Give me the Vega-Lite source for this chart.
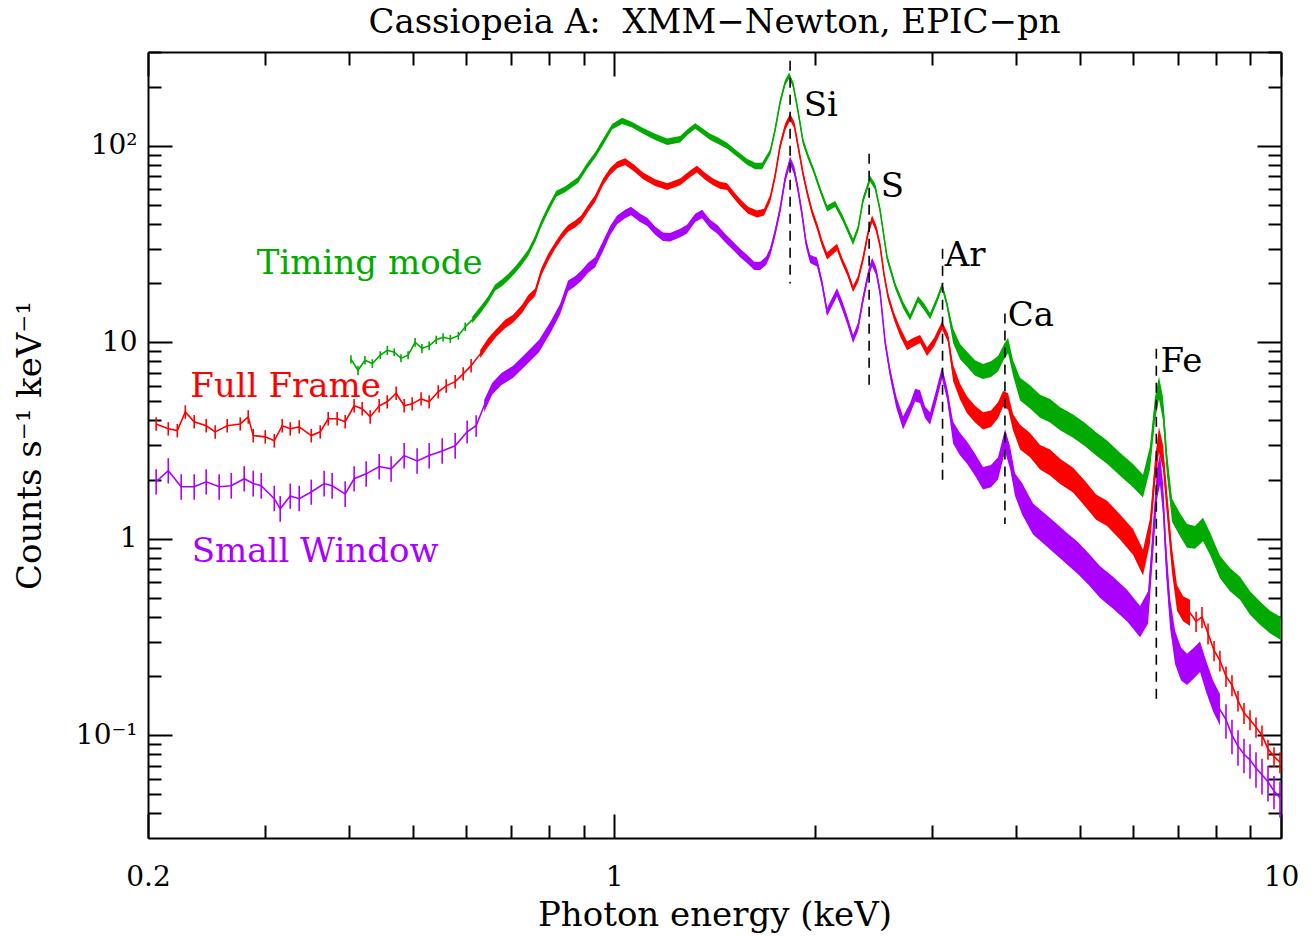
{
  "$schema": "https://vega.github.io/schema/vega-lite/v6.json",
  "width": 1133,
  "height": 786,
  "autosize": "none",
  "padding": {"left": 148, "top": 52, "right": 32, "bottom": 98},
  "background": "white",
  "title": {
    "text": "Cassiopeia A:\u00a0 XMM−Newton, EPIC−pn",
    "font": "DejaVu Serif",
    "fontSize": 34,
    "fontWeight": "normal",
    "color": "black",
    "anchor": "middle",
    "offset": -2
  },
  "config": {
    "view": {"stroke": null},
    "axis": {
      "domainColor": "black",
      "domainWidth": 2,
      "tickColor": "black",
      "tickWidth": 2,
      "labelFont": "DejaVu Serif",
      "labelFontSize": 28,
      "labelColor": "black",
      "titleFont": "DejaVu Serif",
      "titleFontSize": 34,
      "titleFontWeight": "normal",
      "titleColor": "black",
      "grid": false,
      "labelOverlap": false,
      "labelFlush": false
    }
  },
  "datasets": {
    "spectra": [
      {"m":"T","e":0.403,"v":8.2,"lo":7.8,"hi":8.6},
      {"m":"T","e":0.413,"v":7.2,"lo":6.8,"hi":7.6},
      {"m":"T","e":0.423,"v":8.1,"lo":7.7,"hi":8.5},
      {"m":"T","e":0.434,"v":7.8,"lo":7.4,"hi":8.2},
      {"m":"T","e":0.446,"v":8.6,"lo":8.2,"hi":9.0},
      {"m":"T","e":0.457,"v":9.1,"lo":8.6,"hi":9.6},
      {"m":"T","e":0.468,"v":8.9,"lo":8.5,"hi":9.3},
      {"m":"T","e":0.479,"v":8.3,"lo":7.9,"hi":8.7},
      {"m":"T","e":0.491,"v":8.6,"lo":8.2,"hi":9.0},
      {"m":"T","e":0.503,"v":10.0,"lo":9.5,"hi":10.5},
      {"m":"T","e":0.515,"v":9.3,"lo":8.8,"hi":9.8},
      {"m":"T","e":0.528,"v":9.6,"lo":9.1,"hi":10.1},
      {"m":"T","e":0.541,"v":10.3,"lo":9.8,"hi":10.8},
      {"m":"T","e":0.554,"v":10.6,"lo":10.1,"hi":11.1},
      {"m":"T","e":0.568,"v":10.4,"lo":9.9,"hi":10.9},
      {"m":"T","e":0.584,"v":10.8,"lo":10.3,"hi":11.3},
      {"m":"T","e":0.598,"v":12.0,"lo":11.4,"hi":12.6},
      {"m":"T","e":0.6125,"v":13.0,"lo":12.5,"hi":13.5},
      {"m":"T","e":0.632,"v":14.8,"lo":14.2,"hi":15.4},
      {"m":"T","e":0.647,"v":16.5,"lo":15.9,"hi":17.1},
      {"m":"T","e":0.663,"v":19.0,"lo":18.3,"hi":19.7},
      {"m":"T","e":0.680,"v":20.2,"lo":19.4,"hi":21.0},
      {"m":"T","e":0.694,"v":21.5,"lo":20.7,"hi":22.3},
      {"m":"T","e":0.711,"v":23.5,"lo":22.6,"hi":24.4},
      {"m":"T","e":0.726,"v":25.6,"lo":24.6,"hi":26.6},
      {"m":"T","e":0.743,"v":28.5,"lo":27.4,"hi":29.6},
      {"m":"T","e":0.761,"v":33.5,"lo":32.2,"hi":34.8},
      {"m":"T","e":0.777,"v":40,"lo":38.5,"hi":41.5},
      {"m":"T","e":0.796,"v":47.6,"lo":45.8,"hi":49.4},
      {"m":"T","e":0.819,"v":57,"lo":55,"hi":59},
      {"m":"T","e":0.844,"v":60,"lo":58,"hi":62},
      {"m":"T","e":0.883,"v":67,"lo":64.7,"hi":69.3},
      {"m":"T","e":0.911,"v":79,"lo":76.3,"hi":81.7},
      {"m":"T","e":0.937,"v":90,"lo":87,"hi":93},
      {"m":"T","e":0.963,"v":105,"lo":101,"hi":109},
      {"m":"T","e":0.993,"v":125,"lo":121,"hi":129},
      {"m":"T","e":1.028,"v":134,"lo":129,"hi":139},
      {"m":"T","e":1.064,"v":128,"lo":124,"hi":132},
      {"m":"T","e":1.105,"v":119,"lo":115,"hi":123},
      {"m":"T","e":1.152,"v":111,"lo":107,"hi":115},
      {"m":"T","e":1.201,"v":105,"lo":101,"hi":109},
      {"m":"T","e":1.256,"v":108,"lo":104,"hi":112},
      {"m":"T","e":1.291,"v":118,"lo":114,"hi":122},
      {"m":"T","e":1.323,"v":126,"lo":122,"hi":130},
      {"m":"T","e":1.359,"v":118,"lo":114,"hi":122},
      {"m":"T","e":1.393,"v":111,"lo":107,"hi":115},
      {"m":"T","e":1.432,"v":106,"lo":102,"hi":110},
      {"m":"T","e":1.477,"v":100,"lo":96.5,"hi":103.5},
      {"m":"T","e":1.529,"v":91,"lo":88,"hi":94},
      {"m":"T","e":1.582,"v":83,"lo":80,"hi":86},
      {"m":"T","e":1.627,"v":79,"lo":76,"hi":82},
      {"m":"T","e":1.667,"v":79,"lo":76,"hi":82},
      {"m":"T","e":1.714,"v":93,"lo":90,"hi":96},
      {"m":"T","e":1.743,"v":120,"lo":116,"hi":124},
      {"m":"T","e":1.774,"v":167,"lo":161,"hi":173},
      {"m":"T","e":1.805,"v":210,"lo":203,"hi":217},
      {"m":"T","e":1.830,"v":228,"lo":220,"hi":236},
      {"m":"T","e":1.855,"v":205,"lo":198,"hi":212},
      {"m":"T","e":1.887,"v":150,"lo":145,"hi":155},
      {"m":"T","e":1.920,"v":105,"lo":101,"hi":109},
      {"m":"T","e":1.954,"v":88,"lo":85,"hi":91},
      {"m":"T","e":1.988,"v":76,"lo":73.5,"hi":78.5},
      {"m":"T","e":2.036,"v":60,"lo":58,"hi":62},
      {"m":"T","e":2.086,"v":48,"lo":46.3,"hi":49.7},
      {"m":"T","e":2.145,"v":50.6,"lo":48.8,"hi":52.4},
      {"m":"T","e":2.204,"v":42.4,"lo":40.9,"hi":43.9},
      {"m":"T","e":2.251,"v":36,"lo":34.7,"hi":37.3},
      {"m":"T","e":2.282,"v":32.5,"lo":31.3,"hi":33.7},
      {"m":"T","e":2.322,"v":38,"lo":36.7,"hi":39.3},
      {"m":"T","e":2.362,"v":53,"lo":51,"hi":55},
      {"m":"T","e":2.420,"v":68,"lo":65.6,"hi":70.4},
      {"m":"T","e":2.462,"v":62,"lo":59.8,"hi":64.2},
      {"m":"T","e":2.505,"v":47,"lo":45.3,"hi":48.7},
      {"m":"T","e":2.566,"v":27,"lo":26,"hi":28},
      {"m":"T","e":2.638,"v":19.5,"lo":18.8,"hi":20.2},
      {"m":"T","e":2.712,"v":15.5,"lo":14.9,"hi":16.1},
      {"m":"T","e":2.778,"v":13.4,"lo":12.9,"hi":13.9},
      {"m":"T","e":2.856,"v":16.6,"lo":16.0,"hi":17.2},
      {"m":"T","e":2.916,"v":15.2,"lo":14.6,"hi":15.8},
      {"m":"T","e":2.977,"v":13.6,"lo":13.1,"hi":14.1},
      {"m":"T","e":3.050,"v":16.5,"lo":15.9,"hi":17.1},
      {"m":"T","e":3.103,"v":19.4,"lo":18.7,"hi":20.1},
      {"m":"T","e":3.157,"v":15.5,"lo":14.9,"hi":16.1},
      {"m":"T","e":3.223,"v":10.8,"lo":9.9,"hi":11.8},
      {"m":"T","e":3.302,"v":9.0,"lo":8.2,"hi":9.8},
      {"m":"T","e":3.382,"v":8.2,"lo":7.5,"hi":8.95},
      {"m":"T","e":3.477,"v":7.4,"lo":6.75,"hi":8.1},
      {"m":"T","e":3.574,"v":7.1,"lo":6.5,"hi":7.75},
      {"m":"T","e":3.674,"v":7.3,"lo":6.65,"hi":8.0},
      {"m":"T","e":3.764,"v":7.8,"lo":7.1,"hi":8.5},
      {"m":"T","e":3.843,"v":9.0,"lo":8.2,"hi":9.8},
      {"m":"T","e":3.897,"v":9.6,"lo":8.8,"hi":10.5},
      {"m":"T","e":3.965,"v":7.4,"lo":6.75,"hi":8.1},
      {"m":"T","e":4.062,"v":5.8,"lo":5.05,"hi":6.6},
      {"m":"T","e":4.204,"v":5.3,"lo":4.6,"hi":6.05},
      {"m":"T","e":4.352,"v":4.75,"lo":4.13,"hi":5.4},
      {"m":"T","e":4.505,"v":4.5,"lo":3.9,"hi":5.15},
      {"m":"T","e":4.664,"v":4.1,"lo":3.57,"hi":4.67},
      {"m":"T","e":4.878,"v":3.76,"lo":3.27,"hi":4.29},
      {"m":"T","e":5.084,"v":3.4,"lo":2.96,"hi":3.88},
      {"m":"T","e":5.281,"v":3.05,"lo":2.65,"hi":3.48},
      {"m":"T","e":5.485,"v":2.77,"lo":2.41,"hi":3.16},
      {"m":"T","e":5.736,"v":2.4,"lo":2.09,"hi":2.74},
      {"m":"T","e":5.999,"v":2.1,"lo":1.83,"hi":2.4},
      {"m":"T","e":6.210,"v":1.86,"lo":1.62,"hi":2.12},
      {"m":"T","e":6.362,"v":2.6,"lo":2.26,"hi":2.96},
      {"m":"T","e":6.472,"v":4.6,"lo":4.0,"hi":5.25},
      {"m":"T","e":6.562,"v":5.9,"lo":5.13,"hi":6.7},
      {"m":"T","e":6.654,"v":4.6,"lo":4.0,"hi":5.25},
      {"m":"T","e":6.747,"v":2.4,"lo":2.09,"hi":2.74},
      {"m":"T","e":6.864,"v":1.4,"lo":1.22,"hi":1.6},
      {"m":"T","e":7.056,"v":1.18,"lo":1.03,"hi":1.35},
      {"m":"T","e":7.229,"v":1.04,"lo":0.9,"hi":1.19},
      {"m":"T","e":7.431,"v":1.02,"lo":0.89,"hi":1.16},
      {"m":"T","e":7.639,"v":1.12,"lo":0.97,"hi":1.28},
      {"m":"T","e":7.826,"v":0.95,"lo":0.83,"hi":1.08},
      {"m":"T","e":8.099,"v":0.72,"lo":0.63,"hi":0.82},
      {"m":"T","e":8.384,"v":0.62,"lo":0.54,"hi":0.71},
      {"m":"T","e":8.680,"v":0.56,"lo":0.49,"hi":0.64},
      {"m":"T","e":8.985,"v":0.47,"lo":0.41,"hi":0.54},
      {"m":"T","e":9.301,"v":0.42,"lo":0.365,"hi":0.48},
      {"m":"T","e":9.627,"v":0.38,"lo":0.33,"hi":0.43},
      {"m":"T","e":9.99,"v":0.35,"lo":0.305,"hi":0.4},

      {"m":"F","e":0.2057,"v":3.84,"lo":3.55,"hi":4.15},
      {"m":"F","e":0.2145,"v":3.63,"lo":3.35,"hi":3.92},
      {"m":"F","e":0.2213,"v":3.55,"lo":3.28,"hi":3.84},
      {"m":"F","e":0.2275,"v":4.42,"lo":4.08,"hi":4.78},
      {"m":"F","e":0.2346,"v":3.94,"lo":3.64,"hi":4.26},
      {"m":"F","e":0.2445,"v":3.76,"lo":3.47,"hi":4.07},
      {"m":"F","e":0.2522,"v":3.5,"lo":3.23,"hi":3.78},
      {"m":"F","e":0.2629,"v":3.76,"lo":3.47,"hi":4.07},
      {"m":"F","e":0.2750,"v":3.84,"lo":3.55,"hi":4.15},
      {"m":"F","e":0.2827,"v":4.17,"lo":3.85,"hi":4.51},
      {"m":"F","e":0.2876,"v":3.35,"lo":3.09,"hi":3.62},
      {"m":"F","e":0.2998,"v":3.3,"lo":3.05,"hi":3.57},
      {"m":"F","e":0.3093,"v":3.15,"lo":2.91,"hi":3.41},
      {"m":"F","e":0.3179,"v":3.76,"lo":3.47,"hi":4.07},
      {"m":"F","e":0.3268,"v":3.63,"lo":3.35,"hi":3.92},
      {"m":"F","e":0.3371,"v":3.71,"lo":3.43,"hi":4.01},
      {"m":"F","e":0.3514,"v":3.35,"lo":3.09,"hi":3.62},
      {"m":"F","e":0.3625,"v":3.5,"lo":3.23,"hi":3.78},
      {"m":"F","e":0.3726,"v":4.08,"lo":3.77,"hi":4.41},
      {"m":"F","e":0.3843,"v":4.08,"lo":3.77,"hi":4.41},
      {"m":"F","e":0.3951,"v":3.94,"lo":3.64,"hi":4.26},
      {"m":"F","e":0.4075,"v":4.75,"lo":4.39,"hi":5.14},
      {"m":"F","e":0.4190,"v":4.59,"lo":4.24,"hi":4.96},
      {"m":"F","e":0.4307,"v":4.17,"lo":3.85,"hi":4.51},
      {"m":"F","e":0.4443,"v":4.75,"lo":4.39,"hi":5.14},
      {"m":"F","e":0.4568,"v":4.98,"lo":4.6,"hi":5.38},
      {"m":"F","e":0.4711,"v":5.5,"lo":5.08,"hi":5.95},
      {"m":"F","e":0.4843,"v":4.75,"lo":4.39,"hi":5.14},
      {"m":"F","e":0.4979,"v":4.86,"lo":4.49,"hi":5.25},
      {"m":"F","e":0.5135,"v":5.15,"lo":4.76,"hi":5.57},
      {"m":"F","e":0.5280,"v":4.98,"lo":4.6,"hi":5.38},
      {"m":"F","e":0.5447,"v":5.6,"lo":5.17,"hi":6.05},
      {"m":"F","e":0.5600,"v":6.0,"lo":5.54,"hi":6.49},
      {"m":"F","e":0.5776,"v":6.3,"lo":5.82,"hi":6.81},
      {"m":"F","e":0.5938,"v":6.9,"lo":6.38,"hi":7.46},
      {"m":"F","e":0.6103,"v":7.6,"lo":7.02,"hi":8.22},
      {"m":"F","e":0.6296,"v":8.7,"lo":8.3,"hi":9.1},
      {"m":"F","e":0.6474,"v":10.0,"lo":9.5,"hi":10.5},
      {"m":"F","e":0.6677,"v":11.3,"lo":10.8,"hi":11.8},
      {"m":"F","e":0.6864,"v":12.4,"lo":11.8,"hi":13.0},
      {"m":"F","e":0.7056,"v":13.2,"lo":12.6,"hi":13.8},
      {"m":"F","e":0.7278,"v":14.8,"lo":14.1,"hi":15.5},
      {"m":"F","e":0.7434,"v":16.6,"lo":15.8,"hi":17.4},
      {"m":"F","e":0.7614,"v":18.0,"lo":17.2,"hi":18.8},
      {"m":"F","e":0.7774,"v":22.8,"lo":21.8,"hi":23.8},
      {"m":"F","e":0.7962,"v":27,"lo":25.8,"hi":28.2},
      {"m":"F","e":0.8155,"v":31,"lo":29.8,"hi":32.2},
      {"m":"F","e":0.8356,"v":35,"lo":33.6,"hi":36.4},
      {"m":"F","e":0.8531,"v":38,"lo":36.5,"hi":39.5},
      {"m":"F","e":0.8740,"v":40,"lo":38.4,"hi":41.6},
      {"m":"F","e":0.8923,"v":42.4,"lo":40.7,"hi":44.1},
      {"m":"F","e":0.9141,"v":48,"lo":46.1,"hi":49.9},
      {"m":"F","e":0.9365,"v":54,"lo":51.8,"hi":56.2},
      {"m":"F","e":0.9627,"v":65.5,"lo":62.9,"hi":68.1},
      {"m":"F","e":0.9863,"v":74,"lo":71,"hi":77},
      {"m":"F","e":1.0104,"v":80,"lo":76.8,"hi":83.2},
      {"m":"F","e":1.0387,"v":83,"lo":79.7,"hi":86.3},
      {"m":"F","e":1.0715,"v":77,"lo":73.9,"hi":80.1},
      {"m":"F","e":1.105,"v":70.4,"lo":67.6,"hi":73.2},
      {"m":"F","e":1.152,"v":65,"lo":62.4,"hi":67.6},
      {"m":"F","e":1.201,"v":62,"lo":59.5,"hi":64.5},
      {"m":"F","e":1.256,"v":65.5,"lo":62.9,"hi":68.1},
      {"m":"F","e":1.300,"v":72,"lo":69.1,"hi":74.9},
      {"m":"F","e":1.331,"v":76,"lo":73,"hi":79},
      {"m":"F","e":1.369,"v":70,"lo":67.2,"hi":72.8},
      {"m":"F","e":1.407,"v":65.5,"lo":62.9,"hi":68.1},
      {"m":"F","e":1.441,"v":63,"lo":60.5,"hi":65.5},
      {"m":"F","e":1.477,"v":62,"lo":59.5,"hi":64.5},
      {"m":"F","e":1.513,"v":56,"lo":53.8,"hi":58.2},
      {"m":"F","e":1.545,"v":51.5,"lo":49.4,"hi":53.6},
      {"m":"F","e":1.588,"v":47,"lo":45.1,"hi":48.9},
      {"m":"F","e":1.638,"v":45,"lo":43.2,"hi":46.8},
      {"m":"F","e":1.678,"v":46,"lo":44.2,"hi":47.8},
      {"m":"F","e":1.714,"v":54,"lo":51.8,"hi":56.2},
      {"m":"F","e":1.743,"v":70,"lo":67.2,"hi":72.8},
      {"m":"F","e":1.774,"v":100,"lo":96,"hi":104},
      {"m":"F","e":1.805,"v":125,"lo":120,"hi":130},
      {"m":"F","e":1.836,"v":140,"lo":134,"hi":146},
      {"m":"F","e":1.862,"v":128,"lo":123,"hi":133},
      {"m":"F","e":1.887,"v":100,"lo":96,"hi":104},
      {"m":"F","e":1.920,"v":72,"lo":69.1,"hi":74.9},
      {"m":"F","e":1.947,"v":58,"lo":55.7,"hi":60.3},
      {"m":"F","e":1.981,"v":46,"lo":44.2,"hi":47.8},
      {"m":"F","e":2.015,"v":39,"lo":37.4,"hi":40.6},
      {"m":"F","e":2.050,"v":32,"lo":30.7,"hi":33.3},
      {"m":"F","e":2.086,"v":27.5,"lo":26.4,"hi":28.6},
      {"m":"F","e":2.122,"v":29,"lo":27.8,"hi":30.2},
      {"m":"F","e":2.159,"v":30.5,"lo":29.3,"hi":31.7},
      {"m":"F","e":2.197,"v":26,"lo":25,"hi":27},
      {"m":"F","e":2.236,"v":22.8,"lo":21.9,"hi":23.7},
      {"m":"F","e":2.282,"v":18.7,"lo":18.0,"hi":19.4},
      {"m":"F","e":2.322,"v":21,"lo":20.2,"hi":21.8},
      {"m":"F","e":2.362,"v":26.6,"lo":25.5,"hi":27.7},
      {"m":"F","e":2.403,"v":36,"lo":34.6,"hi":37.4},
      {"m":"F","e":2.437,"v":42.4,"lo":40.7,"hi":44.1},
      {"m":"F","e":2.471,"v":38,"lo":36.5,"hi":39.5},
      {"m":"F","e":2.505,"v":31,"lo":29.8,"hi":32.2},
      {"m":"F","e":2.540,"v":22,"lo":21.1,"hi":22.9},
      {"m":"F","e":2.576,"v":17,"lo":16.3,"hi":17.7},
      {"m":"F","e":2.630,"v":13.5,"lo":12.9,"hi":14.1},
      {"m":"F","e":2.685,"v":11.3,"lo":10.7,"hi":11.9},
      {"m":"F","e":2.750,"v":9.6,"lo":9.1,"hi":10.1},
      {"m":"F","e":2.807,"v":10.0,"lo":9.5,"hi":10.5},
      {"m":"F","e":2.876,"v":10.4,"lo":9.9,"hi":10.9},
      {"m":"F","e":2.946,"v":8.95,"lo":8.5,"hi":9.4},
      {"m":"F","e":3.018,"v":10.0,"lo":9.5,"hi":10.5},
      {"m":"F","e":3.103,"v":12.2,"lo":11.6,"hi":12.8},
      {"m":"F","e":3.168,"v":10.5,"lo":10.0,"hi":11.0},
      {"m":"F","e":3.223,"v":7.0,"lo":6.35,"hi":7.7},
      {"m":"F","e":3.302,"v":5.6,"lo":5.1,"hi":6.15},
      {"m":"F","e":3.382,"v":4.8,"lo":4.35,"hi":5.3},
      {"m":"F","e":3.477,"v":4.3,"lo":3.9,"hi":4.75},
      {"m":"F","e":3.574,"v":4.0,"lo":3.6,"hi":4.4},
      {"m":"F","e":3.674,"v":4.1,"lo":3.7,"hi":4.5},
      {"m":"F","e":3.764,"v":4.5,"lo":4.1,"hi":4.95},
      {"m":"F","e":3.830,"v":5.15,"lo":4.7,"hi":5.65},
      {"m":"F","e":3.897,"v":5.0,"lo":4.55,"hi":5.5},
      {"m":"F","e":3.965,"v":3.9,"lo":3.55,"hi":4.3},
      {"m":"F","e":4.062,"v":3.3,"lo":2.85,"hi":3.8},
      {"m":"F","e":4.204,"v":3.0,"lo":2.6,"hi":3.45},
      {"m":"F","e":4.352,"v":2.6,"lo":2.25,"hi":3.0},
      {"m":"F","e":4.505,"v":2.45,"lo":2.1,"hi":2.85},
      {"m":"F","e":4.664,"v":2.2,"lo":1.9,"hi":2.55},
      {"m":"F","e":4.878,"v":2.0,"lo":1.72,"hi":2.3},
      {"m":"F","e":5.084,"v":1.7,"lo":1.46,"hi":1.97},
      {"m":"F","e":5.281,"v":1.45,"lo":1.25,"hi":1.68},
      {"m":"F","e":5.485,"v":1.35,"lo":1.16,"hi":1.56},
      {"m":"F","e":5.736,"v":1.15,"lo":0.99,"hi":1.33},
      {"m":"F","e":5.999,"v":0.97,"lo":0.83,"hi":1.12},
      {"m":"F","e":6.210,"v":0.76,"lo":0.65,"hi":0.88},
      {"m":"F","e":6.362,"v":1.1,"lo":0.95,"hi":1.27},
      {"m":"F","e":6.472,"v":2.2,"lo":1.9,"hi":2.55},
      {"m":"F","e":6.562,"v":3.2,"lo":2.75,"hi":3.7},
      {"m":"F","e":6.654,"v":2.6,"lo":2.25,"hi":3.0},
      {"m":"F","e":6.747,"v":1.5,"lo":1.3,"hi":1.74},
      {"m":"F","e":6.864,"v":0.78,"lo":0.67,"hi":0.9},
      {"m":"F","e":6.984,"v":0.5,"lo":0.43,"hi":0.58},
      {"m":"F","e":7.131,"v":0.44,"lo":0.38,"hi":0.51},
      {"m":"F","e":7.305,"v":0.42,"lo":0.36,"hi":0.49},
      {"m":"F","e":7.458,"v":0.38,"lo":0.335,"hi":0.425},
      {"m":"F","e":7.613,"v":0.40,"lo":0.35,"hi":0.45},
      {"m":"F","e":7.773,"v":0.33,"lo":0.29,"hi":0.37},
      {"m":"F","e":7.936,"v":0.27,"lo":0.238,"hi":0.302},
      {"m":"F","e":8.099,"v":0.24,"lo":0.211,"hi":0.269},
      {"m":"F","e":8.270,"v":0.20,"lo":0.176,"hi":0.224},
      {"m":"F","e":8.443,"v":0.18,"lo":0.158,"hi":0.202},
      {"m":"F","e":8.620,"v":0.15,"lo":0.132,"hi":0.168},
      {"m":"F","e":8.800,"v":0.13,"lo":0.114,"hi":0.146},
      {"m":"F","e":8.985,"v":0.12,"lo":0.106,"hi":0.134},
      {"m":"F","e":9.173,"v":0.11,"lo":0.097,"hi":0.123},
      {"m":"F","e":9.365,"v":0.10,"lo":0.088,"hi":0.112},
      {"m":"F","e":9.561,"v":0.085,"lo":0.075,"hi":0.095},
      {"m":"F","e":9.761,"v":0.078,"lo":0.069,"hi":0.087},
      {"m":"F","e":9.965,"v":0.073,"lo":0.064,"hi":0.082},

      {"m":"S","e":0.2057,"v":1.95,"lo":1.68,"hi":2.26},
      {"m":"S","e":0.2145,"v":2.22,"lo":1.91,"hi":2.57},
      {"m":"S","e":0.2243,"v":1.84,"lo":1.58,"hi":2.13},
      {"m":"S","e":0.2346,"v":1.84,"lo":1.58,"hi":2.13},
      {"m":"S","e":0.2445,"v":1.95,"lo":1.68,"hi":2.26},
      {"m":"S","e":0.2557,"v":1.84,"lo":1.58,"hi":2.13},
      {"m":"S","e":0.2666,"v":1.86,"lo":1.6,"hi":2.16},
      {"m":"S","e":0.2788,"v":2.02,"lo":1.74,"hi":2.34},
      {"m":"S","e":0.2876,"v":1.91,"lo":1.64,"hi":2.22},
      {"m":"S","e":0.2957,"v":1.86,"lo":1.6,"hi":2.16},
      {"m":"S","e":0.3093,"v":1.6,"lo":1.38,"hi":1.86},
      {"m":"S","e":0.3157,"v":1.42,"lo":1.22,"hi":1.65},
      {"m":"S","e":0.3268,"v":1.65,"lo":1.42,"hi":1.91},
      {"m":"S","e":0.3371,"v":1.6,"lo":1.38,"hi":1.86},
      {"m":"S","e":0.3514,"v":1.73,"lo":1.49,"hi":2.0},
      {"m":"S","e":0.3674,"v":1.91,"lo":1.64,"hi":2.22},
      {"m":"S","e":0.3777,"v":1.86,"lo":1.6,"hi":2.16},
      {"m":"S","e":0.3951,"v":1.69,"lo":1.45,"hi":1.96},
      {"m":"S","e":0.4075,"v":2.02,"lo":1.74,"hi":2.34},
      {"m":"S","e":0.4248,"v":2.14,"lo":1.84,"hi":2.48},
      {"m":"S","e":0.4443,"v":2.33,"lo":2.0,"hi":2.7},
      {"m":"S","e":0.4630,"v":2.27,"lo":1.95,"hi":2.63},
      {"m":"S","e":0.4843,"v":2.65,"lo":2.28,"hi":3.07},
      {"m":"S","e":0.5065,"v":2.49,"lo":2.14,"hi":2.89},
      {"m":"S","e":0.5280,"v":2.65,"lo":2.28,"hi":3.07},
      {"m":"S","e":0.5523,"v":2.8,"lo":2.41,"hi":3.25},
      {"m":"S","e":0.5776,"v":2.97,"lo":2.55,"hi":3.45},
      {"m":"S","e":0.6020,"v":3.5,"lo":3.05,"hi":4.0},
      {"m":"S","e":0.6210,"v":3.76,"lo":3.3,"hi":4.25},
      {"m":"S","e":0.6384,"v":4.75,"lo":4.42,"hi":5.08},
      {"m":"S","e":0.6562,"v":5.8,"lo":5.4,"hi":6.2},
      {"m":"S","e":0.6770,"v":6.5,"lo":6.05,"hi":6.95},
      {"m":"S","e":0.7056,"v":7.1,"lo":6.6,"hi":7.6},
      {"m":"S","e":0.7380,"v":8.24,"lo":7.66,"hi":8.82},
      {"m":"S","e":0.7719,"v":9.6,"lo":8.93,"hi":10.3},
      {"m":"S","e":0.8045,"v":12.1,"lo":11.3,"hi":12.9},
      {"m":"S","e":0.8299,"v":14.8,"lo":13.9,"hi":15.7},
      {"m":"S","e":0.8531,"v":19.4,"lo":18.2,"hi":20.6},
      {"m":"S","e":0.8740,"v":20.5,"lo":19.3,"hi":21.7},
      {"m":"S","e":0.8923,"v":21.8,"lo":20.5,"hi":23.1},
      {"m":"S","e":0.9141,"v":24,"lo":22.6,"hi":25.4},
      {"m":"S","e":0.9365,"v":25.6,"lo":24.1,"hi":27.1},
      {"m":"S","e":0.9627,"v":31,"lo":29.1,"hi":32.9},
      {"m":"S","e":0.9863,"v":37,"lo":35,"hi":39},
      {"m":"S","e":1.0104,"v":42,"lo":39.9,"hi":44.1},
      {"m":"S","e":1.0387,"v":45,"lo":42.8,"hi":47.2},
      {"m":"S","e":1.060,"v":46.6,"lo":44.3,"hi":48.9},
      {"m":"S","e":1.094,"v":43,"lo":40.9,"hi":45.1},
      {"m":"S","e":1.121,"v":41,"lo":39,"hi":43},
      {"m":"S","e":1.152,"v":37,"lo":35.2,"hi":38.8},
      {"m":"S","e":1.184,"v":34.5,"lo":32.8,"hi":36.2},
      {"m":"S","e":1.213,"v":34.3,"lo":32.6,"hi":36},
      {"m":"S","e":1.256,"v":36,"lo":34.2,"hi":37.8},
      {"m":"S","e":1.286,"v":37.7,"lo":35.8,"hi":39.6},
      {"m":"S","e":1.323,"v":43,"lo":40.9,"hi":45.1},
      {"m":"S","e":1.355,"v":45,"lo":42.8,"hi":47.2},
      {"m":"S","e":1.393,"v":40,"lo":38,"hi":42},
      {"m":"S","e":1.427,"v":37.7,"lo":35.8,"hi":39.6},
      {"m":"S","e":1.467,"v":34,"lo":32.3,"hi":35.7},
      {"m":"S","e":1.508,"v":31,"lo":29.5,"hi":32.5},
      {"m":"S","e":1.545,"v":28.5,"lo":27.1,"hi":29.9},
      {"m":"S","e":1.582,"v":26.6,"lo":25.3,"hi":27.9},
      {"m":"S","e":1.622,"v":24.5,"lo":23.3,"hi":25.7},
      {"m":"S","e":1.656,"v":24.5,"lo":23.3,"hi":25.7},
      {"m":"S","e":1.690,"v":26,"lo":24.7,"hi":27.3},
      {"m":"S","e":1.714,"v":28.9,"lo":27.5,"hi":30.3},
      {"m":"S","e":1.743,"v":36,"lo":34.2,"hi":37.8},
      {"m":"S","e":1.774,"v":47.6,"lo":45.2,"hi":50},
      {"m":"S","e":1.805,"v":68,"lo":64.6,"hi":71.4},
      {"m":"S","e":1.836,"v":84,"lo":79.8,"hi":88.2},
      {"m":"S","e":1.862,"v":75,"lo":71.3,"hi":78.8},
      {"m":"S","e":1.887,"v":60,"lo":57,"hi":63},
      {"m":"S","e":1.913,"v":45,"lo":42.8,"hi":47.2},
      {"m":"S","e":1.940,"v":32,"lo":30.4,"hi":33.6},
      {"m":"S","e":1.967,"v":26.6,"lo":25.3,"hi":27.9},
      {"m":"S","e":2.015,"v":25.6,"lo":24.3,"hi":26.9},
      {"m":"S","e":2.050,"v":20,"lo":19,"hi":21},
      {"m":"S","e":2.086,"v":14.3,"lo":13.6,"hi":15},
      {"m":"S","e":2.122,"v":16,"lo":15.2,"hi":16.8},
      {"m":"S","e":2.159,"v":18,"lo":17.1,"hi":18.9},
      {"m":"S","e":2.197,"v":15.5,"lo":14.7,"hi":16.3},
      {"m":"S","e":2.236,"v":13,"lo":12.4,"hi":13.7},
      {"m":"S","e":2.282,"v":10.4,"lo":9.9,"hi":10.9},
      {"m":"S","e":2.322,"v":12,"lo":11.4,"hi":12.6},
      {"m":"S","e":2.362,"v":16.6,"lo":15.8,"hi":17.4},
      {"m":"S","e":2.403,"v":22,"lo":20.9,"hi":23.1},
      {"m":"S","e":2.437,"v":25.6,"lo":24.3,"hi":26.9},
      {"m":"S","e":2.471,"v":23,"lo":21.9,"hi":24.2},
      {"m":"S","e":2.505,"v":18,"lo":17.1,"hi":18.9},
      {"m":"S","e":2.549,"v":10,"lo":9.5,"hi":10.5},
      {"m":"S","e":2.593,"v":7.0,"lo":6.6,"hi":7.4},
      {"m":"S","e":2.648,"v":5.0,"lo":4.65,"hi":5.35},
      {"m":"S","e":2.712,"v":3.9,"lo":3.6,"hi":4.2},
      {"m":"S","e":2.778,"v":4.6,"lo":4.3,"hi":4.9},
      {"m":"S","e":2.827,"v":5.4,"lo":5.0,"hi":5.8},
      {"m":"S","e":2.876,"v":5.3,"lo":4.9,"hi":5.7},
      {"m":"S","e":2.926,"v":4.4,"lo":4.1,"hi":4.7},
      {"m":"S","e":2.977,"v":4.1,"lo":3.8,"hi":4.4},
      {"m":"S","e":3.039,"v":5.3,"lo":4.9,"hi":5.7},
      {"m":"S","e":3.103,"v":7.0,"lo":6.5,"hi":7.5},
      {"m":"S","e":3.157,"v":5.5,"lo":5.1,"hi":5.9},
      {"m":"S","e":3.223,"v":3.5,"lo":3.05,"hi":3.95},
      {"m":"S","e":3.302,"v":3.05,"lo":2.65,"hi":3.45},
      {"m":"S","e":3.382,"v":2.77,"lo":2.41,"hi":3.13},
      {"m":"S","e":3.477,"v":2.4,"lo":2.09,"hi":2.71},
      {"m":"S","e":3.574,"v":2.05,"lo":1.78,"hi":2.32},
      {"m":"S","e":3.674,"v":2.1,"lo":1.83,"hi":2.37},
      {"m":"S","e":3.764,"v":2.3,"lo":2.0,"hi":2.6},
      {"m":"S","e":3.857,"v":3.2,"lo":2.78,"hi":3.62},
      {"m":"S","e":3.925,"v":2.6,"lo":2.26,"hi":2.94},
      {"m":"S","e":3.992,"v":1.9,"lo":1.65,"hi":2.15},
      {"m":"S","e":4.090,"v":1.6,"lo":1.33,"hi":1.92},
      {"m":"S","e":4.248,"v":1.26,"lo":1.05,"hi":1.51},
      {"m":"S","e":4.428,"v":1.12,"lo":0.93,"hi":1.34},
      {"m":"S","e":4.600,"v":1.0,"lo":0.83,"hi":1.2},
      {"m":"S","e":4.778,"v":0.89,"lo":0.74,"hi":1.07},
      {"m":"S","e":4.963,"v":0.8,"lo":0.66,"hi":0.96},
      {"m":"S","e":5.153,"v":0.7,"lo":0.58,"hi":0.84},
      {"m":"S","e":5.355,"v":0.604,"lo":0.5,"hi":0.725},
      {"m":"S","e":5.600,"v":0.53,"lo":0.44,"hi":0.64},
      {"m":"S","e":5.876,"v":0.456,"lo":0.38,"hi":0.55},
      {"m":"S","e":6.147,"v":0.38,"lo":0.315,"hi":0.455},
      {"m":"S","e":6.319,"v":0.45,"lo":0.37,"hi":0.54},
      {"m":"S","e":6.429,"v":1.0,"lo":0.83,"hi":1.2},
      {"m":"S","e":6.517,"v":1.9,"lo":1.58,"hi":2.28},
      {"m":"S","e":6.585,"v":2.27,"lo":1.88,"hi":2.72},
      {"m":"S","e":6.654,"v":1.6,"lo":1.33,"hi":1.92},
      {"m":"S","e":6.724,"v":0.8,"lo":0.66,"hi":0.96},
      {"m":"S","e":6.818,"v":0.42,"lo":0.35,"hi":0.5},
      {"m":"S","e":6.937,"v":0.28,"lo":0.23,"hi":0.34},
      {"m":"S","e":7.081,"v":0.23,"lo":0.19,"hi":0.28},
      {"m":"S","e":7.229,"v":0.218,"lo":0.18,"hi":0.26},
      {"m":"S","e":7.405,"v":0.235,"lo":0.195,"hi":0.28},
      {"m":"S","e":7.561,"v":0.254,"lo":0.21,"hi":0.3},
      {"m":"S","e":7.720,"v":0.2,"lo":0.166,"hi":0.24},
      {"m":"S","e":7.909,"v":0.159,"lo":0.132,"hi":0.19},
      {"m":"S","e":8.099,"v":0.135,"lo":0.112,"hi":0.162},
      {"m":"S","e":8.270,"v":0.12,"lo":0.096,"hi":0.144},
      {"m":"S","e":8.443,"v":0.1,"lo":0.08,"hi":0.12},
      {"m":"S","e":8.620,"v":0.088,"lo":0.07,"hi":0.106},
      {"m":"S","e":8.800,"v":0.08,"lo":0.064,"hi":0.096},
      {"m":"S","e":8.985,"v":0.075,"lo":0.06,"hi":0.09},
      {"m":"S","e":9.173,"v":0.068,"lo":0.054,"hi":0.082},
      {"m":"S","e":9.365,"v":0.063,"lo":0.05,"hi":0.076},
      {"m":"S","e":9.561,"v":0.058,"lo":0.046,"hi":0.07},
      {"m":"S","e":9.761,"v":0.052,"lo":0.042,"hi":0.062},
      {"m":"S","e":9.965,"v":0.048,"lo":0.038,"hi":0.058}
    ],
    "lines": [
      {"el":"Si","e":1.836,"top":271,"bot":19.9},
      {"el":"S","e":2.412,"top":91,"bot":6.0},
      {"el":"Ar","e":3.108,"top":29.9,"bot":1.97},
      {"el":"Ca","e":3.855,"top":14.0,"bot":1.19},
      {"el":"Fe","e":6.502,"top":9.27,"bot":0.15}
    ],
    "labels": [
      {"t":"Si","m":"K","e":1.924,"v":142},
      {"t":"S","m":"K","e":2.510,"v":55.0},
      {"t":"Ar","m":"K","e":3.131,"v":24.5},
      {"t":"Ca","m":"K","e":3.893,"v":12.1},
      {"t":"Fe","m":"K","e":6.596,"v":7.08},
      {"t":"Timing mode","m":"T","e":0.2912,"v":22.3},
      {"t":"Full Frame","m":"F","e":0.2315,"v":5.26},
      {"t":"Small Window","m":"S","e":0.2326,"v":0.764}
    ]
  },
  "layer": [
    {
      "data": {"name": "spectra"},
      "transform": [
        {"filter": "(datum.m == 'T' && datum.e >= 0.6) || (datum.m == 'F' && datum.e >= 0.625 && datum.e < 7.4) || (datum.m == 'S' && datum.e >= 0.625 && datum.e < 8.2)"}
      ],
      "mark": {"type": "area", "clip": true, "opacity": 1},
      "encoding": {
        "x": {
          "field": "e", "type": "quantitative",
          "scale": {"type": "log", "domain": [0.2, 10], "nice": false},
          "axis": {
            "orient": "bottom",
            "values": [0.2,0.3,0.4,0.5,0.6,0.7,0.8,0.9,1,2,3,4,5,6,7,8,9,10],
            "labelExpr": "datum.value == 0.2 ? '0.2' : datum.value == 1 ? '1' : datum.value == 10 ? '10' : ''",
            "tickSize": {"condition": {"test": "datum.value == 0.2 || datum.value == 1 || datum.value == 10", "value": -24}, "value": -13},
            "labelPadding": 49,
            "title": "Photon energy (keV)",
            "titlePadding": -4
          }
        },
        "y": {
          "field": "lo", "type": "quantitative", "stack": null,
          "scale": {"type": "log", "domain": [0.03, 300], "nice": false},
          "axis": {
            "orient": "left",
            "values": [0.04,0.05,0.06,0.07,0.08,0.09,0.1,0.2,0.3,0.4,0.5,0.6,0.7,0.8,0.9,1,2,3,4,5,6,7,8,9,10,20,30,40,50,60,70,80,90,100,200,300],
            "labelExpr": "datum.value == 100 ? '10²' : datum.value == 10 ? '10' : datum.value == 1 ? '1' : datum.value == 0.1 ? '10⁻¹' : ''",
            "tickSize": {"condition": {"test": "datum.value == 0.1 || datum.value == 1 || datum.value == 10 || datum.value == 100", "value": -24}, "value": -13},
            "labelPadding": 35,
            "title": "Counts s⁻¹ keV⁻¹",
            "titlePadding": 28
          }
        },
        "y2": {"field": "hi"},
        "color": {
          "field": "m", "type": "nominal",
          "scale": {"domain": ["T", "F", "S", "K"], "range": ["#00aa00", "#ff0000", "#aa00ff", "#000000"]},
          "legend": null
        }
      }
    },
    {
      "data": {"name": "spectra"},
      "transform": [
        {"filter": "(datum.m == 'T' && datum.e < 0.6) || (datum.m == 'F' && (datum.e < 0.625 || datum.e >= 7.4)) || (datum.m == 'S' && (datum.e < 0.625 || datum.e >= 8.2))"}
      ],
      "mark": {"type": "rule", "clip": true, "strokeWidth": 1.6},
      "encoding": {
        "x": {"field": "e", "type": "quantitative", "scale": {"type": "log", "domain": [0.2, 10], "nice": false}, "axis": null},
        "y": {"field": "lo", "type": "quantitative", "scale": {"type": "log", "domain": [0.03, 300], "nice": false}, "axis": null},
        "y2": {"field": "hi"},
        "color": {"field": "m", "type": "nominal", "scale": {"domain": ["T", "F", "S", "K"], "range": ["#00aa00", "#ff0000", "#aa00ff", "#000000"]}, "legend": null}
      }
    },
    {
      "data": {"name": "spectra"},
      "mark": {"type": "line", "clip": true, "strokeWidth": 1.6},
      "encoding": {
        "x": {"field": "e", "type": "quantitative", "scale": {"type": "log", "domain": [0.2, 10], "nice": false}, "axis": null},
        "y": {"field": "v", "type": "quantitative", "scale": {"type": "log", "domain": [0.03, 300], "nice": false}, "axis": null},
        "color": {"field": "m", "type": "nominal", "scale": {"domain": ["T", "F", "S", "K"], "range": ["#00aa00", "#ff0000", "#aa00ff", "#000000"]}, "legend": null}
      }
    },
    {
      "data": {"name": "lines"},
      "mark": {"type": "rule", "clip": true, "color": "black", "strokeWidth": 1.6, "strokeDash": [10, 7]},
      "encoding": {
        "x": {
          "field": "e", "type": "quantitative",
          "scale": {"type": "log", "domain": [0.2, 10], "nice": false},
          "axis": {
            "orient": "top",
            "values": [0.2,0.3,0.4,0.5,0.6,0.7,0.8,0.9,1,2,3,4,5,6,7,8,9,10],
            "labels": false,
            "title": null,
            "tickSize": {"condition": {"test": "datum.value == 0.2 || datum.value == 1 || datum.value == 10", "value": -24}, "value": -13}
          }
        },
        "y": {
          "field": "top", "type": "quantitative",
          "scale": {"type": "log", "domain": [0.03, 300], "nice": false},
          "axis": {
            "orient": "right",
            "values": [0.04,0.05,0.06,0.07,0.08,0.09,0.1,0.2,0.3,0.4,0.5,0.6,0.7,0.8,0.9,1,2,3,4,5,6,7,8,9,10,20,30,40,50,60,70,80,90,100,200,300],
            "labels": false,
            "title": null,
            "tickSize": {"condition": {"test": "datum.value == 0.1 || datum.value == 1 || datum.value == 10 || datum.value == 100", "value": -24}, "value": -13}
          }
        },
        "y2": {"field": "bot"}
      }
    },
    {
      "data": {"name": "labels"},
      "mark": {"type": "text", "align": "left", "baseline": "alphabetic", "font": "DejaVu Serif", "fontSize": 34},
      "encoding": {
        "x": {"field": "e", "type": "quantitative", "scale": {"type": "log", "domain": [0.2, 10], "nice": false}, "axis": null},
        "y": {"field": "v", "type": "quantitative", "scale": {"type": "log", "domain": [0.03, 300], "nice": false}, "axis": null},
        "text": {"field": "t"},
        "color": {"field": "m", "type": "nominal", "scale": {"domain": ["T", "F", "S", "K"], "range": ["#00aa00", "#ff0000", "#aa00ff", "#000000"]}, "legend": null}
      }
    }
  ],
  "resolve": {"axis": {"x": "independent", "y": "independent"}}
}
